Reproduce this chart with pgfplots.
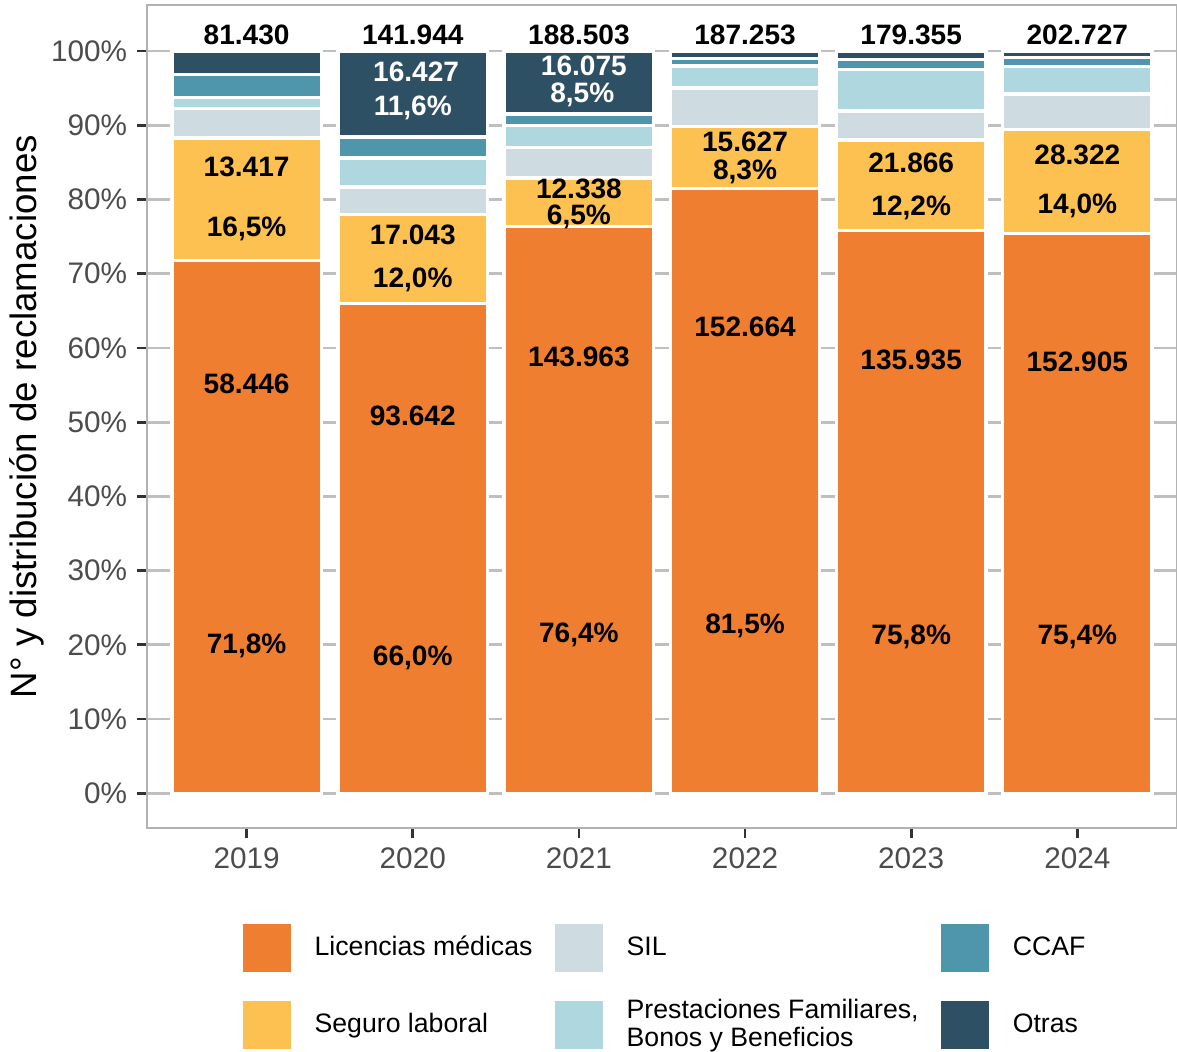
\documentclass[border=0pt]{standalone}
\usepackage{fontspec}
\setmainfont{Liberation Sans}
\usepackage{pgfplots}
\usepackage{pgfplotstable}
\pgfplotsset{compat=1.18}
\usetikzlibrary{calc}

\definecolor{clic}{HTML}{F07E30}
\definecolor{cseg}{HTML}{FDC151}
\definecolor{csil}{HTML}{CEDCE1}
\definecolor{cpre}{HTML}{AED7E0}
\definecolor{cccaf}{HTML}{4F96AC}
\definecolor{cotr}{HTML}{2E5064}

\tikzset{
  lab/.style={font=\fontsize{10.1}{12}\selectfont\bfseries},
  labw/.style={lab, text=white},
}
\pgfplotsset{
  frame/.style={scale only axis, width=370.8pt, height=296.3pt,
    xmin=-0.6, xmax=5.6, ymin=-4.7, ymax=106.2},
  sqlegend/.style={legend image code/.code={\fill[##1,draw=none] (0pt,-8.65pt) rectangle (17.3pt,8.65pt);}},
  bar seg/.style={sqlegend, fill=#1, draw=white, line width=1.2pt},
}

% share of claims per year (%)
\pgfplotstableread{
x lic seg sil pre ccaf otr
0 71.8 16.5 4.0 1.4 3.1 3.2
1 66.0 12.0 3.7 3.9 2.8 11.6
2 76.4 6.5 4.1 3.0 1.5 8.5
3 81.5 8.3 5.2 3.0 1.0 1.0
4 75.8 12.2 3.9 5.6 1.4 1.1
5 75.4 14.0 4.8 3.7 1.2 0.9
}\shares

\begin{document}
\begin{tikzpicture}
\begin{axis}[
    frame,
    ybar stacked, bar width=0.9,
    xtick={0,...,5}, xticklabels={2019,2020,2021,2022,2023,2024},
    ytick={0,10,...,100},
    yticklabels={0\%,10\%,20\%,30\%,40\%,50\%,60\%,70\%,80\%,90\%,100\%},
    tick label style={font=\fontsize{10.7}{12.8}\selectfont, text=black!70},
    tick pos=left, tick align=outside, major tick length=3.6pt,
    tick style={black!80, line width=1pt},
    axis line style={gray!60, line width=0.55pt},
    ymajorgrids, grid style={gray!50, line width=1pt},
    ylabel={N° y distribución de reclamaciones},
    ylabel style={at={(axis description cs:-0.1165,0.5)}, anchor=center,
      font=\fontsize{13.2}{15}\selectfont},
    legend columns=2, transpose legend,
    legend style={at={(axis description cs:0.0932,-0.1166)}, anchor=north west,
      draw=none, fill=none, inner sep=0pt, outer sep=0pt, column sep=0pt, row sep=7.7pt,
      font=\fontsize{9.6}{11.5}\selectfont,
      /tikz/every odd column/.append style={column sep=6.5pt},
      /tikz/every even column/.append style={column sep=6.1pt}},
    legend cell align=left,
  ]
  \addplot[bar seg=clic] table[x=x, y=lic] {\shares};
  \addlegendentry{Licencias médicas}
  \addplot[bar seg=cseg] table[x=x, y=seg] {\shares};
  \addlegendentry{Seguro laboral}
  \addplot[bar seg=csil] table[x=x, y=sil] {\shares};
  \addlegendentry{SIL}
  \addplot[bar seg=cpre] table[x=x, y=pre] {\shares};
  \addlegendentry{\vbox{\baselineskip=10.1pt\hbox{Prestaciones Familiares,}\hbox{Bonos y Beneficios}}}
  \addplot[bar seg=cccaf] table[x=x, y=ccaf] {\shares};
  \addlegendentry{CCAF}
  \addplot[bar seg=cotr] table[x=x, y=otr] {\shares};
  \addlegendentry{Otras}
\end{axis}
% value labels, on top of the bars
\begin{axis}[frame, hide axis]
  % totals
  \node[lab] at (axis cs:0,102.2) {81.430};
  \node[lab] at (axis cs:1,102.2) {141.944};
  \node[lab] at (axis cs:2,102.2) {188.503};
  \node[lab] at (axis cs:3,102.2) {187.253};
  \node[lab] at (axis cs:4,102.2) {179.355};
  \node[lab] at (axis cs:5,102.2) {202.727};
  % licencias medicas
  \node[lab] at (axis cs:0,55.1) {58.446};  \node[lab] at (axis cs:0,19.9) {71,8\%};
  \node[lab] at (axis cs:1,50.8) {93.642};  \node[lab] at (axis cs:1,18.3) {66,0\%};
  \node[lab] at (axis cs:2,58.8) {143.963}; \node[lab] at (axis cs:2,21.3) {76,4\%};
  \node[lab] at (axis cs:3,62.8) {152.664}; \node[lab] at (axis cs:3,22.6) {81,5\%};
  \node[lab] at (axis cs:4,58.4) {135.935}; \node[lab] at (axis cs:4,21.0) {75,8\%};
  \node[lab] at (axis cs:5,58.1) {152.905}; \node[lab] at (axis cs:5,21.0) {75,4\%};
  % seguro laboral
  \node[lab] at (axis cs:0,84.4) {13.417};  \node[lab] at (axis cs:0,76.1) {16,5\%};
  \node[lab] at (axis cs:1,75.2) {17.043};  \node[lab] at (axis cs:1,69.1) {12,0\%};
  \node[lab] at (axis cs:2,81.4) {12.338};  \node[lab] at (axis cs:2,77.7) {6,5\%};
  \node[lab] at (axis cs:3,87.7) {15.627};  \node[lab] at (axis cs:3,83.7) {8,3\%};
  \node[lab] at (axis cs:4,85.0) {21.866};  \node[lab] at (axis cs:4,78.8) {12,2\%};
  \node[lab] at (axis cs:5,86.0) {28.322};  \node[lab] at (axis cs:5,79.2) {14,0\%};
  % otras
  \node[labw] at (axis cs:1.02,97.2) {16.427}; \node[labw] at (axis cs:1.0,92.3) {11,6\%};
  \node[labw] at (axis cs:2.03,98.0) {16.075}; \node[labw] at (axis cs:2.02,94.1) {8,5\%};
\end{axis}
\pgfresetboundingbox
\path ($(current axis.south west)+(-52.9pt,-80.3pt)$) rectangle ($(current axis.north east)+(0pt,1.8pt)$);
\end{tikzpicture}
\end{document}
